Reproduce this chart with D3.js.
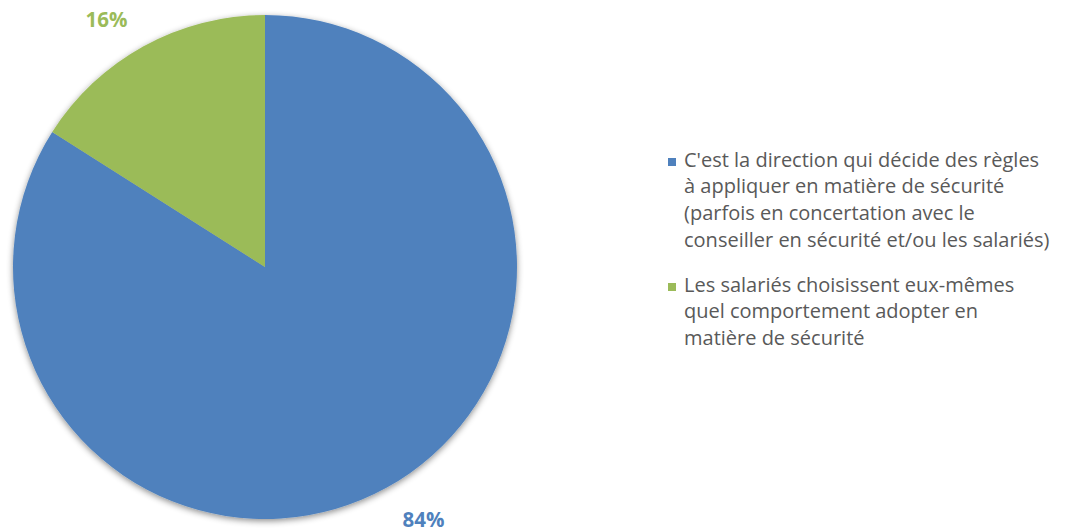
<!DOCTYPE html>
<html>
<head>
<meta charset="utf-8">
<script src="https://cdn.jsdelivr.net/npm/d3@7"></script>
<style>
  html, body { margin: 0; padding: 0; background: #fff; }
  svg { display: block; }
</style>
</head>
<body>
<svg id="chart" width="1065" height="532"></svg>
<script>
// Répartition des réponses
const categories = [
  "C'est la direction qui décide des règles à appliquer en matière de sécurité (parfois en concertation avec le conseiller en sécurité et/ou les salariés)",
  "Les salariés choisissent eux-mêmes quel comportement adopter en matière de sécurité"
];
const values = [84, 16];
const valueLabels = ["84%", "16%"];
const legendLines = [
  ["C'est la direction qui décide des règles", "à appliquer en matière de sécurité", "(parfois en concertation avec le", "conseiller en sécurité et/ou les salariés)"],
  ["Les salariés choisissent eux-mêmes", "quel comportement adopter en", "matière de sécurité"]
];
const colors = ["#4F81BD", "#9BBB59"];

const svg = d3.select("#chart");
const cx = 265, cy = 267, r = 252;
const font = "'Open Sans', 'Noto Sans', sans-serif";

const defs = svg.append("defs");
const f = defs.append("filter").attr("id", "shadow")
  .attr("x", "-10%").attr("y", "-10%").attr("width", "120%").attr("height", "120%");
f.append("feDropShadow").attr("dx", 0).attr("dy", 2).attr("stdDeviation", 3)
  .attr("flood-color", "#000").attr("flood-opacity", 0.45);

const pie = d3.pie().sort(null).value(d => d)(values);
const arc = d3.arc().innerRadius(0).outerRadius(r);

const g = svg.append("g").attr("transform", `translate(${cx},${cy})`);
g.append("g").attr("filter", "url(#shadow)")
  .selectAll("path").data(pie).join("path")
  .attr("d", arc)
  .attr("fill", (d, i) => colors[i]);

// Étiquettes de valeur placées à l'extérieur du disque
const labelPos = [[423.5, 527], [106.5, 27]];
g.selectAll("text.val").data(pie).join("text")
  .attr("class", "val")
  .attr("x", (d, i) => labelPos[i][0] - cx)
  .attr("y", (d, i) => labelPos[i][1] - cy)
  .attr("text-anchor", "middle")
  .attr("font-family", font)
  .attr("font-weight", "bold")
  .attr("font-size", 20.5)
  .attr("fill", (d, i) => colors[i])
  .text((d, i) => valueLabels[i]);

// Légende
const legendTop = [158, 283];
const leg = svg.append("g");
legendLines.forEach((lines, i) => {
  leg.append("rect")
    .attr("x", 668).attr("y", legendTop[i])
    .attr("width", 8).attr("height", 8)
    .attr("fill", colors[i]);
  const t = leg.append("text")
    .attr("font-family", font)
    .attr("font-size", 20)
    .attr("fill", "#595959");
  lines.forEach((line, j) => {
    t.append("tspan")
      .attr("x", 684)
      .attr("y", legendTop[i] + 8.5 + j * 26.8)
      .text(line);
  });
});
</script>
</body>
</html>
